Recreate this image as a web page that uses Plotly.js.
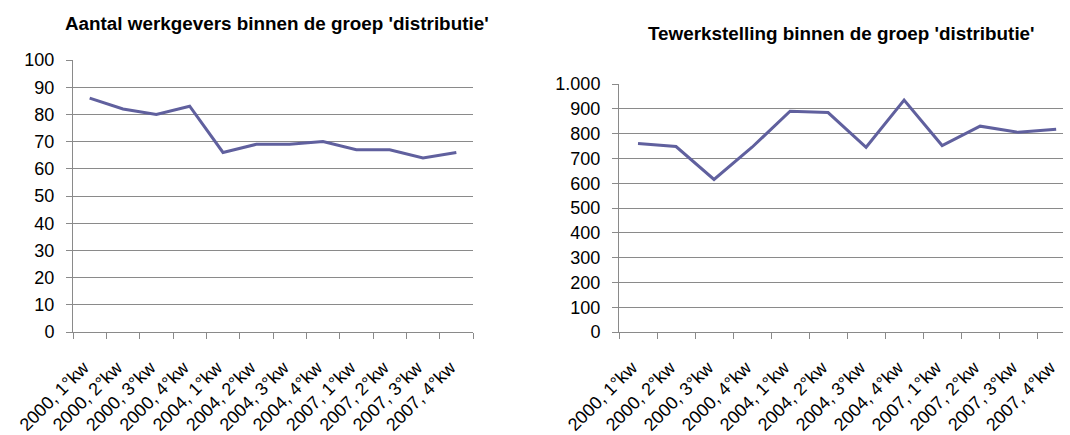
<!DOCTYPE html>
<html>
<head>
<meta charset="utf-8">
<script src="https://cdn.plot.ly/plotly-3.0.1.min.js"></script>
<style>
  html, body { margin: 0; padding: 0; background: #ffffff; }
  #chart { width: 1070px; height: 435px; }
</style>
</head>
<body>
<div id="chart"></div>
<script>
const categories = ["2000, 1°kw", "2000, 2°kw", "2000, 3°kw", "2000, 4°kw",
                    "2004, 1°kw", "2004, 2°kw", "2004, 3°kw", "2004, 4°kw",
                    "2007, 1°kw", "2007, 2°kw", "2007, 3°kw", "2007, 4°kw"];
const werkgevers = [86, 82, 80, 83, 66, 69, 69, 70, 67, 67, 64, 66];
const tewerkstelling = [760, 748, 615, 745, 890, 885, 745, 935, 752, 830, 805, 818];
const titleLeft = "Aantal werkgevers binnen de groep 'distributie'";
const titleRight = "Tewerkstelling binnen de groep 'distributie'";

const W = 1070, H = 435;
const px = v => v / W;
const py = v => 1 - v / H;

const lineColor = "#60609e";
const gridColor = "#8a8a8a";
const tickFont = { family: "Liberation Sans, Arial, sans-serif", size: 18, color: "#000000" };

const traces = [
  { x: categories, y: werkgevers, type: "scatter", mode: "lines",
    line: { color: lineColor, width: 3 }, xaxis: "x", yaxis: "y", hoverinfo: "skip" },
  { x: categories, y: tewerkstelling, type: "scatter", mode: "lines",
    line: { color: lineColor, width: 3 }, xaxis: "x2", yaxis: "y2", hoverinfo: "skip" }
];

function xAxis(domain, range, anchor) {
  return {
    domain: domain, type: "category", range: range, anchor: anchor,
    tickson: "boundaries", ticks: "outside", ticklen: 6, tickwidth: 1, tickcolor: gridColor,
    showline: true, linecolor: gridColor, linewidth: 1,
    showgrid: false, zeroline: false, tickangle: -45, tickfont: tickFont,
    ticklabelstandoff: 17, ticklabelshift: -6, fixedrange: true
  };
}
function yAxis(domain, range, dtick, anchor, sep) {
  return {
    domain: domain, range: range, dtick: dtick, anchor: anchor,
    ticks: "outside", ticklen: 6, tickwidth: 1, tickcolor: gridColor,
    showline: true, linecolor: gridColor, linewidth: 1,
    showgrid: true, gridcolor: gridColor, gridwidth: 1, zeroline: false,
    tickfont: tickFont, separatethousands: sep, ticklabelstandoff: 8, fixedrange: true
  };
}

const titleFont = { family: "Liberation Sans, Arial, sans-serif", size: 18.85, color: "#000000" };

const layout = {
  width: W, height: H,
  margin: { l: 0, r: 0, t: 0, b: 0 },
  paper_bgcolor: "#ffffff", plot_bgcolor: "#ffffff",
  showlegend: false,
  separators: ",.",
  xaxis: xAxis([px(73), px(473)], [-0.5, 11.5], "y"),
  yaxis: yAxis([py(332), py(60)], [0, 100], 10, "x", false),
  xaxis2: xAxis([px(619), px(1063)], [-0.5, 11.18], "y2"),
  yaxis2: yAxis([py(332), py(84)], [0, 1000], 100, "x2", true),
  annotations: [
    { text: "<b>" + titleLeft + "</b>", xref: "paper", yref: "paper",
      x: px(276.5), y: py(23.5), xanchor: "center", yanchor: "middle", showarrow: false,
      font: titleFont },
    { text: "<b>" + titleRight + "</b>", xref: "paper", yref: "paper",
      x: px(841.5), y: py(34), xanchor: "center", yanchor: "middle", showarrow: false,
      font: titleFont }
  ]
};

Plotly.newPlot("chart", traces, layout, { staticPlot: true, displayModeBar: false });
</script>
</body>
</html>
